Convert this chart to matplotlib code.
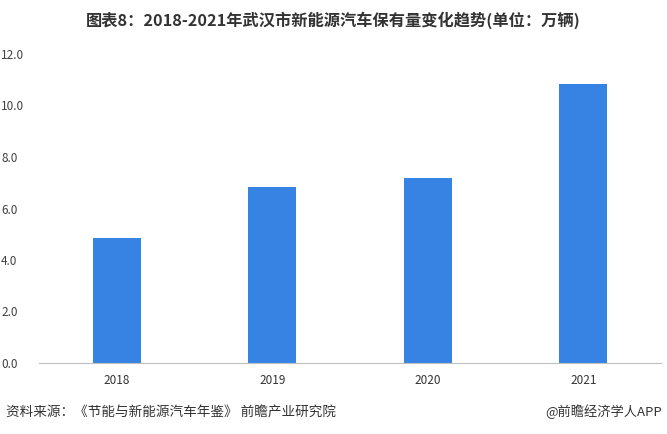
import matplotlib
matplotlib.use("Agg")
import matplotlib.pyplot as plt

plt.rcParams['font.family'] = ['Noto Sans CJK SC', 'DejaVu Sans']

years = ["2018", "2019", "2020", "2021"]
values = [4.86, 6.83, 7.18, 10.83]
yticks = [0, 2, 4, 6, 8, 10, 12]

fig = plt.figure(figsize=(6.67, 4.34), dpi=100)
ax = fig.add_axes([39/667, 1-363/434, 622/667, (363-54)/434])

ax.bar(range(len(years)), values, width=0.31, color="#3683E3", zorder=2)
ax.set_xlim(-0.5, len(years)-0.5)
ax.set_ylim(0, 12)
ax.set_yticks(yticks)
ax.set_yticklabels([f"{v:.1f}" for v in yticks], fontsize=8.5, color="#404040")
ax.set_xticks(range(len(years)))
ax.set_xticklabels(years, fontsize=8.5, color="#333333")
ax.tick_params(length=0, pad=8, axis='x')
for s in ["top", "right", "left"]:
    ax.spines[s].set_visible(False)
ax.spines["bottom"].set_color("#BFBFBF")
ax.spines["bottom"].set_linewidth(0.8)
for lbl in ax.get_yticklabels():
    lbl.set_horizontalalignment('left')
    lbl.set_x(-38/622)
ax.tick_params(axis='y', pad=0, length=0)

fig.text(0.5, 1-20/434, "图表8：2018-2021年武汉市新能源汽车保有量变化趋势(单位：万辆)",
         ha="center", va="center", fontsize=11.7, fontweight="bold", color="#333333")
fig.text(6/667, 1-412/434, "资料来源：《节能与新能源汽车年鉴》 前瞻产业研究院",
         ha="left", va="center", fontsize=9.8, color="#333333")
fig.text(662/667, 1-412/434, "@前瞻经济学人APP",
         ha="right", va="center", fontsize=9.5, color="#333333")

fig.savefig("out.png", dpi=100)
